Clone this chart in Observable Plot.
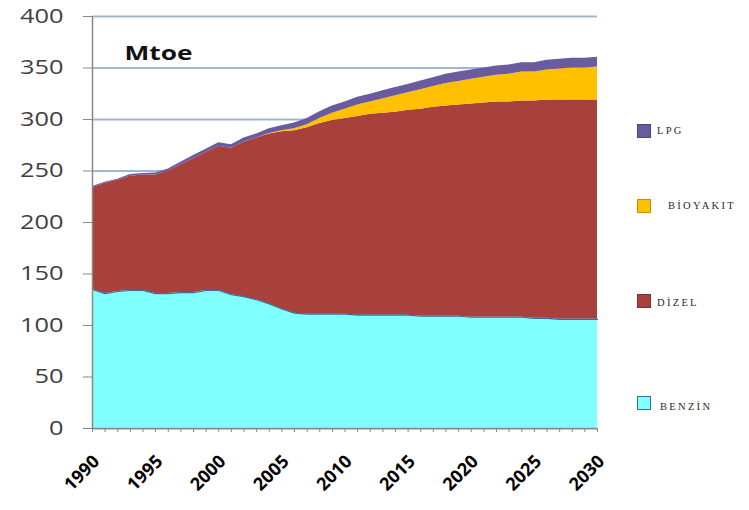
<!DOCTYPE html>
<html><head><meta charset="utf-8">
<script src="https://cdn.jsdelivr.net/npm/d3@7"></script>
<script src="https://cdn.jsdelivr.net/npm/@observablehq/plot@0.6"></script>
<style>
body{margin:0;background:#fff;}
#wrap{position:relative;width:749px;height:510px;}
.leg{position:absolute;font-family:"Liberation Serif",serif;font-size:10.5px;letter-spacing:2.3px;color:#2a2a2a;}
.sw{position:absolute;width:14px;height:14px;box-sizing:border-box;}
</style></head>
<body><div id="wrap"></div>
<script>
const years = [1990,1991,1992,1993,1994,1995,1996,1997,1998,1999,2000,2001,2002,2003,2004,2005,2006,2007,2008,2009,2010,2011,2012,2013,2014,2015,2016,2017,2018,2019,2020,2021,2022,2023,2024,2025,2026,2027,2028,2029,2030];
const benzin = [135,131,133,134,134,131,131,132,132,134,134,130,128,125,121,116,112,111,111,111,111,110,110,110,110,110,109,109,109,109,108,108,108,108,108,107,107,106,106,106,106];
const dizelTop = [234,238,241,245,246,246,250,256,262,268,274,272,278,282,286,288,289,292,296,299,301,303,305,306,307,309,310,312,313,314,315,316,317,317,318,318,319,319,319,319,319];
const dizel = dizelTop.map((t,i)=>t-benzin[i]);
const biyoyakit = [0,0,0,0,0,0,0,0,0,0,0,0,0,0,0.5,1,2,3,5,7,9,11,12,14,16,17,19,20,22,23,24,25,26,27,28,28,29,30,31,31,32];
const lpg = [1,1,1,1.5,1.5,2,2,2.5,3,3,3.5,3.5,4,4,4.5,5,5.5,6,6.5,7,7,7.5,7.5,8,8,8,8.5,8.5,9,9,9,9,9,9,9,9,9.5,9.5,9.5,9.5,9.5];
const seriesNames = ["BENZİN","DİZEL","BİOYAKIT","LPG"];
const seriesColors = ["#80FFFF","#A8403C","#FFC000","#6A5A9E"];
const yTicks = [0,50,100,150,200,250,300,350,400];
const xTicks = [1990,1995,2000,2005,2010,2015,2020,2025,2030];

const rows = [];
[benzin,dizel,biyoyakit,lpg].forEach((arr,s)=>arr.forEach((v,i)=>rows.push({year:years[i],value:v,series:seriesNames[s]})));

const chart = Plot.plot({
  width:749, height:510,
  marginLeft:92, marginRight:152, marginTop:16, marginBottom:82,
  style:{background:"transparent"},
  x:{domain:[1990,2030], label:null},
  y:{domain:[0,400], label:null},
  color:{domain:seriesNames, range:seriesColors},
  marks:[
    Plot.gridY(yTicks,{stroke:"#a3b6cf",strokeOpacity:1,strokeWidth:2}),
    Plot.areaY(rows,{x:"year",y:"value",fill:"series",order:seriesNames}),
    Plot.lineY(benzin.map((v,i)=>({year:years[i],value:v})),{x:"year",y:"value",stroke:"#3f6e9a",strokeWidth:1.2}),
    Plot.ruleX([1990],{stroke:"#888",strokeWidth:1.5}),
    Plot.ruleY([0],{stroke:"#888",strokeWidth:1.5}),
    Plot.axisY(yTicks,{tickSize:9,tickPadding:20,fontSize:20,fill:"#404040",stroke:"#888",fontFamily:"Open Sans",tickFormat:d=>String(d),label:null}),
    Plot.axisX(years,{tickSize:4,stroke:"#888",tickFormat:()=>"",label:null}),
    Plot.axisX(xTicks,{tickSize:0,tickRotate:-45,tickPadding:30,fontSize:18,fontWeight:"bold",fill:"#000",fontFamily:"Open Sans",tickFormat:d=>String(d),dx:4,label:null}),
    Plot.text(["Mtoe"],{frameAnchor:"top-left",dx:32,dy:30,fontSize:19,fontWeight:"bold",fontFamily:"Open Sans",fill:"#111",textAnchor:"start"})
  ]
});
const wrap = document.getElementById("wrap");
wrap.appendChild(chart);

// horizontally stretched lettering as in the reference
d3.select(chart).selectAll("g[aria-label='y-axis tick label'] text").each(function(){
  const s = this.textContent; this.setAttribute("textLength", s.length*14.5); this.setAttribute("lengthAdjust","spacingAndGlyphs");
});
d3.select(chart).selectAll("g[aria-label='text'] text").each(function(){
  this.setAttribute("textLength", 68); this.setAttribute("lengthAdjust","spacingAndGlyphs");
});

const legendItems = [
  {name:"LPG", color:seriesColors[3], sy:124, tx:657, ty:125},
  {name:"BİOYAKIT", color:seriesColors[2], sy:199, tx:668, ty:200},
  {name:"DİZEL", color:seriesColors[1], sy:294, tx:657, ty:297},
  {name:"BENZİN", color:seriesColors[0], sy:396, tx:660, ty:401}
];
legendItems.forEach(it=>{
  const s=document.createElement("div");s.className="sw";
  s.style.left="637px";s.style.top=it.sy+"px";s.style.background=it.color;
  s.style.border="1px solid "+(it.name==="BENZİN"?"#3f6e9a":"rgba(0,0,0,0.25)");
  wrap.appendChild(s);
  const t=document.createElement("div");t.className="leg";t.textContent=it.name;
  t.style.left=it.tx+"px";t.style.top=it.ty+"px";
  wrap.appendChild(t);
});
</script></body></html>
